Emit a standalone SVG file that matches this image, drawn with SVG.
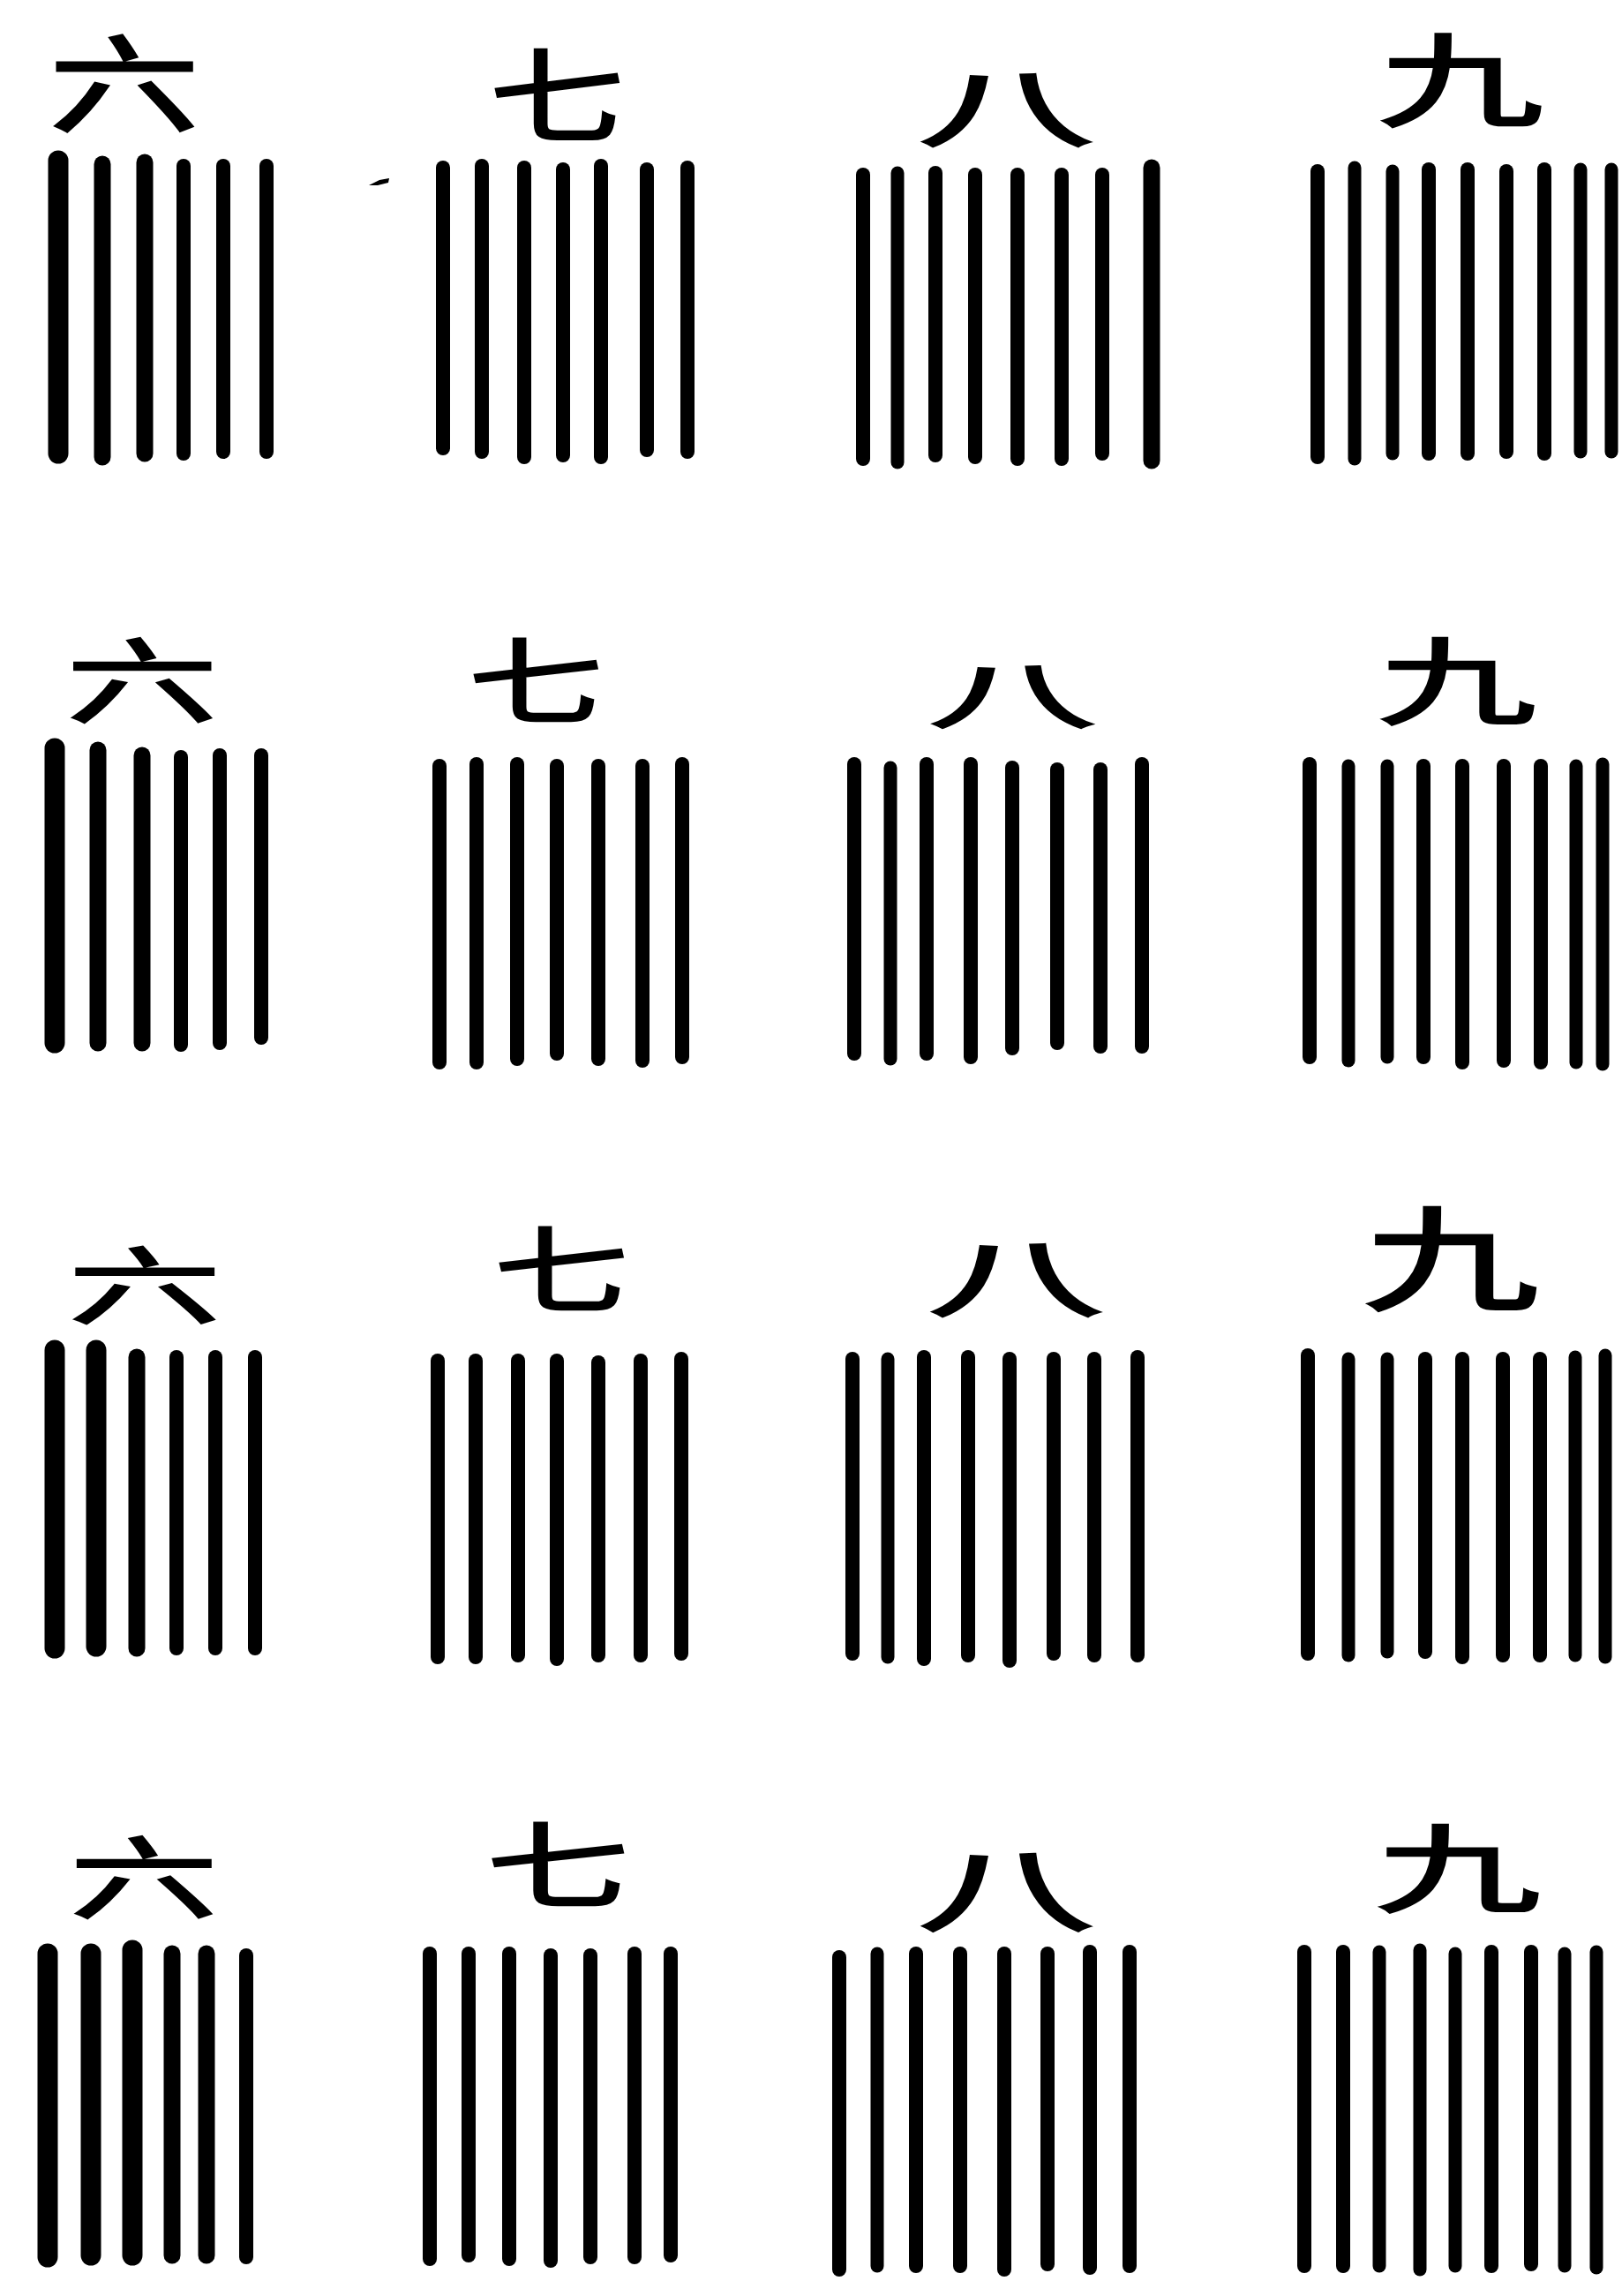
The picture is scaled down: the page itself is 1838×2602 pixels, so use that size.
<svg xmlns="http://www.w3.org/2000/svg" width="1838" height="2602" viewBox="0 0 1838 2602">
<style>
.bg{fill:#ffffff}
.lbl{font-family:"Noto Sans CJK SC","Noto Sans CJK TC",sans-serif;font-size:130px;fill:#000;stroke:#000;stroke-width:3;text-anchor:middle}
.bar{stroke:#000;stroke-width:16;stroke-linecap:round;fill:none}
.bar6{stroke:#000;stroke-width:19;stroke-linecap:round;fill:none}
.bar6b{stroke:#000;stroke-width:23;stroke-linecap:round;fill:none}
.bar9{stroke:#000;stroke-width:15;stroke-linecap:round;fill:none}
</style>
<rect class="bg" x="0" y="0" width="1838" height="2602"/>
<g id="connectors"></g>

<!-- Row 1 -->
<g id="r1-six">
<text class="lbl" x="0" y="43" transform="translate(141 100) scale(1.31 0.92)">六</text>
<line class="bar6b" x1="66" y1="182" x2="66" y2="514"/>
<line class="bar6" x1="116" y1="186" x2="116" y2="518"/>
<line class="bar6" x1="164" y1="184" x2="164" y2="514"/>
<line class="bar" x1="208" y1="188" x2="208" y2="514"/>
<line class="bar" x1="253" y1="188" x2="253" y2="512"/>
<line class="bar" x1="302" y1="188" x2="302" y2="512"/>
</g>
<g id="r1-seven">
<text class="lbl" x="0" y="50" transform="translate(631 107) scale(1.17 0.89)">七</text>
<line class="bar" x1="502" y1="190" x2="502" y2="508"/>
<line class="bar" x1="546" y1="188" x2="546" y2="512"/>
<line class="bar" x1="594" y1="190" x2="594" y2="518"/>
<line class="bar" x1="638" y1="192" x2="638" y2="516"/>
<line class="bar" x1="681" y1="188" x2="681" y2="518"/>
<line class="bar" x1="733" y1="192" x2="733" y2="510"/>
<line class="bar" x1="779" y1="190" x2="779" y2="512"/>
<path d="M418 210 L430 204 L441 202 L440 207 L428 210 Z" fill="#000"/>
</g>
<g id="r1-eight">
<text class="lbl" x="0" y="47" transform="translate(1140 124) scale(1.54 0.75)">八</text>
<line class="bar" x1="978" y1="198" x2="978" y2="520"/>
<line class="bar9" x1="1017" y1="196" x2="1017" y2="524"/>
<line class="bar" x1="1060" y1="196" x2="1060" y2="516"/>
<line class="bar" x1="1105" y1="198" x2="1105" y2="518"/>
<line class="bar" x1="1153" y1="198" x2="1153" y2="520"/>
<line class="bar" x1="1203" y1="198" x2="1203" y2="520"/>
<line class="bar" x1="1249" y1="198" x2="1249" y2="514"/>
<line class="bar6" x1="1305" y1="190" x2="1305" y2="522"/>
</g>
<g id="r1-nine">
<text class="lbl" x="0" y="50" transform="translate(1655 90) scale(1.44 0.88)">九</text>
<line class="bar" x1="1493" y1="194" x2="1493" y2="518"/>
<line class="bar9" x1="1535" y1="190" x2="1535" y2="520"/>
<line class="bar9" x1="1578" y1="194" x2="1578" y2="514"/>
<line class="bar" x1="1619" y1="192" x2="1619" y2="514"/>
<line class="bar" x1="1663" y1="192" x2="1663" y2="514"/>
<line class="bar" x1="1707" y1="194" x2="1707" y2="512"/>
<line class="bar" x1="1750" y1="192" x2="1750" y2="514"/>
<line class="bar9" x1="1791" y1="192" x2="1791" y2="512"/>
<line class="bar9" x1="1826" y1="192" x2="1826" y2="512"/>
</g>

<!-- Row 2 -->
<g id="r2-six">
<text class="lbl" x="0" y="43" transform="translate(161 777) scale(1.32 0.80)">六</text>
<line class="bar6b" x1="62" y1="848" x2="62" y2="1182"/>
<line class="bar6" x1="111" y1="850" x2="111" y2="1182"/>
<line class="bar6" x1="161" y1="856" x2="161" y2="1182"/>
<line class="bar" x1="205" y1="858" x2="205" y2="1184"/>
<line class="bar" x1="249" y1="856" x2="249" y2="1182"/>
<line class="bar" x1="296" y1="856" x2="296" y2="1176"/>
</g>
<g id="r2-seven">
<text class="lbl" x="0" y="50" transform="translate(607 771) scale(1.17 0.82)">七</text>
<line class="bar" x1="498" y1="868" x2="498" y2="1204"/>
<line class="bar" x1="540" y1="866" x2="540" y2="1204"/>
<line class="bar" x1="586" y1="866" x2="586" y2="1200"/>
<line class="bar" x1="631" y1="868" x2="631" y2="1194"/>
<line class="bar" x1="678" y1="868" x2="678" y2="1200"/>
<line class="bar" x1="728" y1="868" x2="728" y2="1202"/>
<line class="bar" x1="773" y1="866" x2="773" y2="1198"/>
</g>
<g id="r2-eight">
<text class="lbl" x="0" y="47" transform="translate(1147 789) scale(1.47 0.64)">八</text>
<line class="bar" x1="968" y1="866" x2="968" y2="1194"/>
<line class="bar9" x1="1009" y1="870" x2="1009" y2="1200"/>
<line class="bar" x1="1050" y1="866" x2="1050" y2="1194"/>
<line class="bar" x1="1100" y1="866" x2="1100" y2="1198"/>
<line class="bar" x1="1147" y1="870" x2="1147" y2="1188"/>
<line class="bar" x1="1198" y1="872" x2="1198" y2="1182"/>
<line class="bar" x1="1247" y1="872" x2="1247" y2="1186"/>
<line class="bar" x1="1294" y1="866" x2="1294" y2="1186"/>
</g>
<g id="r2-nine">
<text class="lbl" x="0" y="50" transform="translate(1651 771) scale(1.38 0.82)">九</text>
<line class="bar" x1="1484" y1="866" x2="1484" y2="1198"/>
<line class="bar9" x1="1528" y1="868" x2="1528" y2="1202"/>
<line class="bar9" x1="1572" y1="868" x2="1572" y2="1198"/>
<line class="bar" x1="1613" y1="868" x2="1613" y2="1198"/>
<line class="bar" x1="1657" y1="868" x2="1657" y2="1204"/>
<line class="bar" x1="1704" y1="868" x2="1704" y2="1202"/>
<line class="bar" x1="1746" y1="868" x2="1746" y2="1204"/>
<line class="bar9" x1="1786" y1="868" x2="1786" y2="1204"/>
<line class="bar9" x1="1816" y1="866" x2="1816" y2="1206"/>
</g>

<!-- Row 3 -->
<g id="r3-six">
<text class="lbl" x="0" y="43" transform="translate(164 1462) scale(1.33 0.73)">六</text>
<line class="bar6b" x1="62" y1="1530" x2="62" y2="1868"/>
<line class="bar6b" x1="109" y1="1530" x2="109" y2="1866"/>
<line class="bar6" x1="155" y1="1538" x2="155" y2="1868"/>
<line class="bar" x1="200" y1="1538" x2="200" y2="1868"/>
<line class="bar" x1="244" y1="1538" x2="244" y2="1868"/>
<line class="bar" x1="289" y1="1538" x2="289" y2="1868"/>
</g>
<g id="r3-seven">
<text class="lbl" x="0" y="50" transform="translate(636 1438) scale(1.17 0.82)">七</text>
<line class="bar" x1="496" y1="1542" x2="496" y2="1878"/>
<line class="bar" x1="539" y1="1542" x2="539" y2="1878"/>
<line class="bar" x1="587" y1="1542" x2="587" y2="1876"/>
<line class="bar" x1="631" y1="1542" x2="631" y2="1880"/>
<line class="bar" x1="678" y1="1544" x2="678" y2="1876"/>
<line class="bar" x1="726" y1="1542" x2="726" y2="1876"/>
<line class="bar" x1="772" y1="1540" x2="772" y2="1874"/>
</g>
<g id="r3-eight">
<text class="lbl" x="0" y="47" transform="translate(1151 1450) scale(1.54 0.75)">八</text>
<line class="bar" x1="966" y1="1540" x2="966" y2="1874"/>
<line class="bar9" x1="1006" y1="1540" x2="1006" y2="1878"/>
<line class="bar" x1="1047" y1="1538" x2="1047" y2="1880"/>
<line class="bar" x1="1097" y1="1538" x2="1097" y2="1876"/>
<line class="bar" x1="1144" y1="1540" x2="1144" y2="1882"/>
<line class="bar" x1="1194" y1="1540" x2="1194" y2="1874"/>
<line class="bar" x1="1240" y1="1540" x2="1240" y2="1876"/>
<line class="bar" x1="1289" y1="1538" x2="1289" y2="1876"/>
</g>
<g id="r3-nine">
<text class="lbl" x="0" y="50" transform="translate(1644 1425) scale(1.53 0.99)">九</text>
<line class="bar" x1="1482" y1="1536" x2="1482" y2="1874"/>
<line class="bar9" x1="1528" y1="1540" x2="1528" y2="1876"/>
<line class="bar9" x1="1572" y1="1540" x2="1572" y2="1872"/>
<line class="bar" x1="1615" y1="1540" x2="1615" y2="1872"/>
<line class="bar" x1="1657" y1="1540" x2="1657" y2="1878"/>
<line class="bar" x1="1703" y1="1540" x2="1703" y2="1876"/>
<line class="bar" x1="1745" y1="1540" x2="1745" y2="1876"/>
<line class="bar9" x1="1785" y1="1538" x2="1785" y2="1876"/>
<line class="bar9" x1="1819" y1="1536" x2="1819" y2="1878"/>
</g>

<!-- Row 4 -->
<g id="r4-six">
<text class="lbl" x="0" y="43" transform="translate(163 2132) scale(1.29 0.78)">六</text>
<line class="bar6b" x1="54" y1="2214" x2="54" y2="2558"/>
<line class="bar6b" x1="103" y1="2214" x2="103" y2="2556"/>
<line class="bar6b" x1="150" y1="2210" x2="150" y2="2556"/>
<line class="bar6" x1="195" y1="2214" x2="195" y2="2556"/>
<line class="bar6" x1="234" y1="2214" x2="234" y2="2556"/>
<line class="bar" x1="279" y1="2216" x2="279" y2="2558"/>
</g>
<g id="r4-seven">
<text class="lbl" x="0" y="50" transform="translate(632 2113) scale(1.24 0.82)">七</text>
<line class="bar" x1="487" y1="2214" x2="487" y2="2560"/>
<line class="bar" x1="531" y1="2214" x2="531" y2="2556"/>
<line class="bar" x1="577" y1="2214" x2="577" y2="2560"/>
<line class="bar" x1="624" y1="2216" x2="624" y2="2562"/>
<line class="bar" x1="669" y1="2216" x2="669" y2="2558"/>
<line class="bar" x1="719" y1="2214" x2="719" y2="2558"/>
<line class="bar" x1="760" y1="2214" x2="760" y2="2556"/>
</g>
<g id="r4-eight">
<text class="lbl" x="0" y="47" transform="translate(1140 2143) scale(1.54 0.80)">八</text>
<line class="bar" x1="951" y1="2218" x2="951" y2="2572"/>
<line class="bar9" x1="994" y1="2214" x2="994" y2="2568"/>
<line class="bar" x1="1038" y1="2214" x2="1038" y2="2568"/>
<line class="bar" x1="1088" y1="2214" x2="1088" y2="2568"/>
<line class="bar" x1="1138" y1="2214" x2="1138" y2="2572"/>
<line class="bar" x1="1187" y1="2214" x2="1187" y2="2566"/>
<line class="bar" x1="1235" y1="2212" x2="1235" y2="2570"/>
<line class="bar" x1="1280" y1="2212" x2="1280" y2="2568"/>
</g>
<g id="r4-nine">
<text class="lbl" x="0" y="50" transform="translate(1652 2116) scale(1.44 0.83)">九</text>
<line class="bar" x1="1478" y1="2212" x2="1478" y2="2568"/>
<line class="bar" x1="1522" y1="2212" x2="1522" y2="2568"/>
<line class="bar9" x1="1563" y1="2212" x2="1563" y2="2568"/>
<line class="bar9" x1="1609" y1="2210" x2="1609" y2="2572"/>
<line class="bar9" x1="1649" y1="2214" x2="1649" y2="2568"/>
<line class="bar" x1="1690" y1="2212" x2="1690" y2="2568"/>
<line class="bar" x1="1735" y1="2212" x2="1735" y2="2566"/>
<line class="bar9" x1="1773" y1="2214" x2="1773" y2="2568"/>
<line class="bar9" x1="1809" y1="2212" x2="1809" y2="2570"/>
</g>
</svg>
